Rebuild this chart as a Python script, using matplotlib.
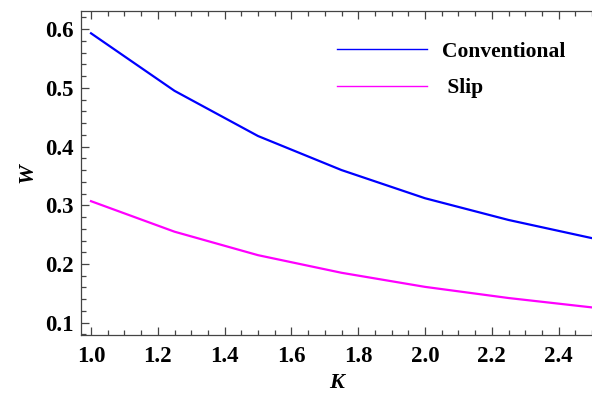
import numpy as np
import matplotlib
matplotlib.use('Agg')
import matplotlib.pyplot as plt
from matplotlib.lines import Line2D
from matplotlib.ticker import MultipleLocator

plt.rcParams['font.family'] = ['Liberation Serif', 'DejaVu Serif']

K = [1.0, 1.25, 1.5, 1.75, 2.0, 2.25, 2.5]
w_conventional = [0.593, 0.495, 0.418, 0.360, 0.312, 0.275, 0.244]
w_slip = [0.307, 0.255, 0.215, 0.185, 0.161, 0.142, 0.126]
labels = ['Conventional', ' Slip']

fig = plt.figure(figsize=(5.92, 4.05), dpi=100)
ax = fig.add_axes([81 / 592, 70 / 405, 511 / 592, 324 / 405])

ax.plot(K, w_conventional, color='#0000ff', lw=1.6)
ax.plot(K, w_slip, color='#ff00ff', lw=1.6)

ax.set_xlim(0.97, 2.5)
ax.set_ylim(0.079, 0.631)

ax.xaxis.set_major_locator(MultipleLocator(0.2))
ax.xaxis.set_minor_locator(MultipleLocator(0.05))
ax.yaxis.set_major_locator(MultipleLocator(0.1))
ax.yaxis.set_minor_locator(MultipleLocator(0.02))
ax.xaxis.set_major_formatter(matplotlib.ticker.FormatStrFormatter('%.1f'))
ax.yaxis.set_major_formatter(matplotlib.ticker.FormatStrFormatter('%.1f'))

ax.tick_params(which='both', direction='in', top=True, right=False,
               color='#444444', labelsize=16.5, width=0.9)
ax.tick_params(which='major', length=6)
ax.tick_params(which='minor', length=3.5)
ax.tick_params(axis='x', pad=8)
ax.tick_params(axis='y', pad=5)
for lbl in ax.get_xticklabels() + ax.get_yticklabels():
    lbl.set_fontweight('bold')
for s in ax.spines.values():
    s.set_color('#444444')
    s.set_linewidth(0.9)
ax.spines['right'].set_visible(False)

ax.set_xlabel('K', fontsize=16, fontstyle='italic', fontweight='bold', labelpad=4)
ax.set_ylabel('W', fontsize=16, fontstyle='italic', fontweight='bold', labelpad=6)

handles = [Line2D([], [], color='#0000ff', lw=1.0),
           Line2D([], [], color='#ff00ff', lw=1.0)]
ax.legend(handles, labels, frameon=False, loc='upper left',
          bbox_to_anchor=(0.5, 0.905), handlelength=4.2, handletextpad=0.7,
          labelspacing=0.75, borderpad=0, borderaxespad=0,
          prop={'size': 15.5, 'weight': 'bold'})

fig.savefig('out.png', dpi=100)
